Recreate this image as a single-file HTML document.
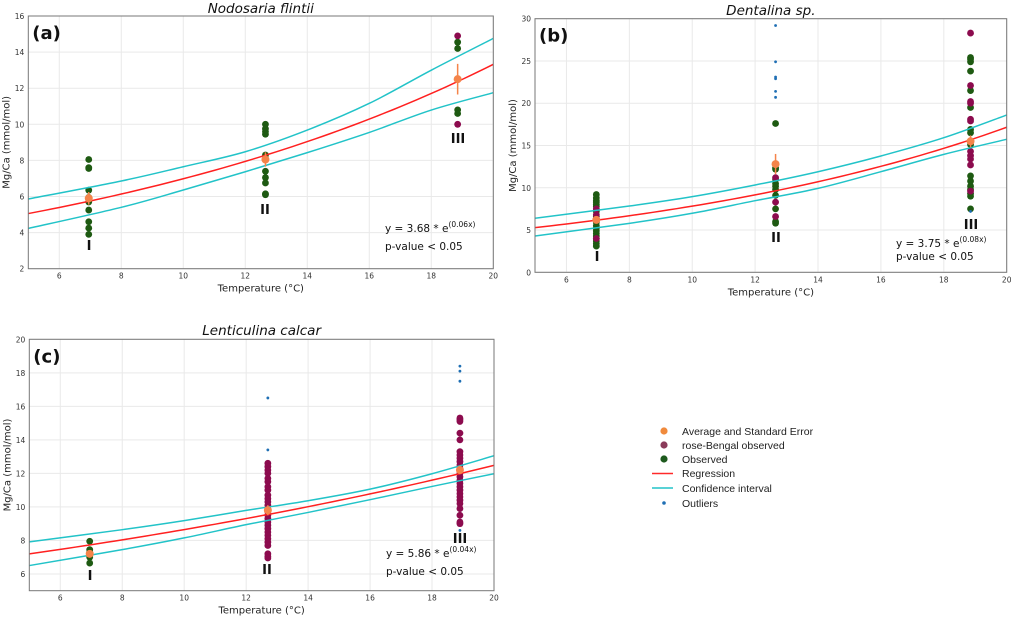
<!DOCTYPE html>
<html><head><meta charset="utf-8"><style>
html,body{margin:0;padding:0;background:#fff;}
svg{display:block;font-family:"DejaVu Sans","Liberation Sans",sans-serif;}
</style></head>
<body>
<svg id="fig" width="1011" height="617" viewBox="0 0 1011 617">
 <g id="legend" font-size="10.5" fill="#222" font-family="Liberation Sans, sans-serif">
  <circle cx="664" cy="431" r="3.6" fill="#f08a3c"/>
  <text x="682" y="435">Average and Standard Error</text>
  <circle cx="664" cy="445" r="3.6" fill="#8a3b5a"/>
  <text x="682" y="449">rose-Bengal observed</text>
  <circle cx="664" cy="459" r="3.6" fill="#1e5a1e"/>
  <text x="682" y="463">Observed</text>
  <line x1="652" y1="473.5" x2="673" y2="473.5" stroke="#ff2a2a" stroke-width="1.5"/>
  <text x="682" y="477">Regression</text>
  <line x1="652" y1="488" x2="673" y2="488" stroke="#22c3c8" stroke-width="1.5"/>
  <text x="682" y="492">Confidence interval</text>
  <circle cx="664" cy="503" r="1.8" fill="#1f6fb4"/>
  <text x="682" y="507">Outliers</text>
 </g>
</svg>
<script>
// ---------- Data ----------
const ciX = [5, 8, 10, 12, 14, 16, 18, 20];
const groupLabels = ["I", "II", "III"];

// Panel (a) Nodosaria flintii
const aGroupX = [6.95, 12.65, 18.85];
const aObserved = [[8.05,7.6,7.55,6.35,5.95,5.7,5.25,4.6,4.25,3.9],[10,9.75,9.6,9.45,8.3,8.1,7.4,7.05,6.75,6.15,6.1],[14.55,14.2,10.8,10.6]];
const aRose = [[],[],[14.9,10.0]];
const aOutliers = [[],[],[]];
const aAvg = [5.9, 8.05, 12.5];
const aErr = [0.35, 0.4, 0.85];
const aReg = [3.66, 0.0646];
const aUpper = [5.86,6.86,7.65,8.48,9.68,11.16,13.0,14.76];
const aLower = [4.23,5.4,6.36,7.37,8.43,9.55,10.79,11.75];
const aYTicks = [2,4,6,8,10,12,14,16];

// Panel (b) Dentalina sp.
const bGroupX = [6.95, 12.65, 18.85];
const bObserved = [[9.2,8.8,8.5,8.3,8.0,7.8,7.2,6.6,6.3,5.9,5.5,5.2,4.9,4.6,4.3,4.0,3.7,3.4,3.1],[17.6,12.4,12.2,11.0,10.5,10.2,9.8,9.1,7.5,6.0,5.8],[25.4,25.2,24.9,23.8,21.5,19.5,16.9,16.5,15.1,11.4,10.8,10.2,9.8,9.3,9.0,7.5]];
const bRose = [[7.5,6.8,4.0],[11.2,8.3,6.6],[28.3,22.1,20.2,20.0,18.1,17.9,15.5,14.3,13.8,13.4,12.7,9.6]];
const bOutliers = [[],[29.2,24.9,23.1,22.9,21.4,20.7],[7.2]];
const bAvg = [6.2, 12.8, 15.5];
const bErr = [0.4, 1.2, 0.7];
const bReg = [3.57, 0.0785];
const bUpper = [6.39,7.84,8.95,10.33,11.9,13.76,15.92,18.6];
const bLower = [4.3,5.79,6.98,8.47,9.93,11.9,13.95,15.73];
const bYTicks = [0,5,10,15,20,25,30];

// Panel (c) Lenticulina calcar
const cGroupX = [6.95, 12.7, 18.9];
const cObserved = [[7.95,7.45,7.3,7.0,6.65],[],[]];
const cRose = [[],[12.6,12.4,12.2,12.0,11.7,11.5,11.2,11.0,10.7,10.5,10.3,10.1,9.9,9.7,9.5,9.3,9.1,8.9,8.7,8.5,8.3,8.1,7.9,7.7,7.2,7.05,6.95],[15.3,15.2,15.1,14.4,14.0,13.3,13.1,12.9,12.7,12.5,12.3,12.0,11.8,11.6,11.4,11.2,11.0,10.8,10.6,10.4,10.2,9.9,9.5,9.1,9.0]];
const cOutliers = [[],[16.5,13.4],[18.4,18.1,17.5,8.6]];
const cAvg = [7.2, 9.8, 12.2];
const cErr = [0.15, 0.3, 0.25];
const cReg = [5.99, 0.0367];
const cUpper = [7.91,8.64,9.18,9.79,10.37,11.06,11.98,13.05];
const cLower = [6.5,7.45,8.15,8.94,9.67,10.43,11.22,11.98];
const cYTicks = [6,8,10,12,14,16,18,20];

const xTicks = [6,8,10,12,14,16,18,20];

// ---------- Drawing ----------
const NS = "http://www.w3.org/2000/svg";
const fig = document.getElementById("fig");
function mk(tag, parent, attrs){ const e=document.createElementNS(NS,tag); for(const k in attrs) e.setAttribute(k,attrs[k]); parent.appendChild(e); return e; }

function spline(pts){
  let d="M"+pts[0][0].toFixed(2)+","+pts[0][1].toFixed(2);
  for(let i=0;i<pts.length-1;i++){
    const p0=pts[i-1]||pts[i], p1=pts[i], p2=pts[i+1], p3=pts[i+2]||p2;
    const c1=[p1[0]+(p2[0]-p0[0])/6, p1[1]+(p2[1]-p0[1])/6];
    const c2=[p2[0]-(p3[0]-p1[0])/6, p2[1]-(p3[1]-p1[1])/6];
    d+="C"+c1[0].toFixed(2)+","+c1[1].toFixed(2)+" "+c2[0].toFixed(2)+","+c2[1].toFixed(2)+" "+p2[0].toFixed(2)+","+p2[1].toFixed(2);
  }
  return d;
}

function panel(p){
  const g = mk("g", fig, {});
  
  
  const X = v => p.L + (v-5)/15*(p.R-p.L);
  const Y = v => p.B - (v-p.ymin)/(p.ymax-p.ymin)*(p.B-p.T);
  xTicks.forEach(t=>{
    const l=mk("line",g,{x1:X(t),x2:X(t),y1:p.T,y2:p.B,stroke:"#e9e9e9","stroke-width":1});
    
    
    const tx=mk("text",g,{x:X(t),y:p.B+10,"font-size":7.5,fill:"#333","text-anchor":"middle"}); tx.textContent=t;
    
    
  });
  p.yt.forEach(t=>{
    const l=mk("line",g,{x1:p.L,x2:p.R,y1:Y(t),y2:Y(t),stroke:"#e9e9e9","stroke-width":1});
    
    
    const tx=mk("text",g,{x:p.L-4,y:Y(t)+3,"font-size":7.5,fill:"#333","text-anchor":"end"}); tx.textContent=t;
    
    
  });
  const clipId="clip-"+p.id;
  const cp=mk("clipPath",g,{id:clipId}); mk("rect",cp,{x:p.L,y:p.T,width:p.R-p.L,height:p.B-p.T});
  const plot=mk("g",g,{"clip-path":"url(#"+clipId+")"});
  p.gx.forEach((gx,i)=>{
    p.obs[i].forEach(v=>{ const c=mk("circle",plot,{cx:X(gx),cy:Y(v),r:3.4,fill:"#1e5a12"});
        });
    p.rose[i].forEach(v=>{ const c=mk("circle",plot,{cx:X(gx),cy:Y(v),r:3.4,fill:"#8c0b4e"});
        });
    p.out[i].forEach(v=>{ const c=mk("circle",plot,{cx:X(gx),cy:Y(v),r:1.4,fill:"#1f6fb4"});
        });
  });
  const up=mk("path",plot,{d:spline(ciX.map((x,i)=>[X(x),Y(p.up[i])])),fill:"none",stroke:"#22c3c8","stroke-width":1.5});
  
  
  const lo=mk("path",plot,{d:spline(ciX.map((x,i)=>[X(x),Y(p.lo[i])])),fill:"none",stroke:"#22c3c8","stroke-width":1.5});
  
  
  let d="";
  for(let k=0;k<=60;k++){ const x=5+k*0.25; d+=(k?"L":"M")+X(x).toFixed(2)+","+Y(p.reg[0]*Math.exp(p.reg[1]*x)).toFixed(2); }
  const rg=mk("path",plot,{d:d,fill:"none",stroke:"#ff2020","stroke-width":1.5});
  
  
  p.gx.forEach((gx,i)=>{
    const e=mk("line",plot,{x1:X(gx),x2:X(gx),y1:Y(p.avg[i]-p.err[i]),y2:Y(p.avg[i]+p.err[i]),stroke:"#f5844a","stroke-width":1.5});
     
    const c=mk("circle",plot,{cx:X(gx),cy:Y(p.avg[i]),r:4,fill:"#f5844a"});
     
  });
  const fr=mk("rect",g,{x:p.L,y:p.T,width:p.R-p.L,height:p.B-p.T,fill:"none",stroke:"#777","stroke-width":1});
  
  
  p.gl.forEach((pos,i)=>{
    const t=mk("text",g,{x:pos[0],y:pos[1],"font-size":13,"font-weight":"bold","text-anchor":"middle",fill:"#111"}); t.textContent=groupLabels[i];
     
  });
  const ti=mk("text",g,{x:(p.L+p.R)/2,y:p.titleY,"font-size":13.5,"font-style":"italic","text-anchor":"middle",fill:"#111"}); ti.textContent=p.title;
   
  const pl=mk("text",g,{x:p.L+4,y:p.T+23,"font-size":18,"font-weight":"bold",fill:"#111"}); pl.textContent=p.label;
   
  const xl=mk("text",g,{x:(p.L+p.R)/2,y:p.B+23,"font-size":10,"text-anchor":"middle",fill:"#222"}); xl.textContent="Temperature (°C)";
   
  const yx=p.L-19, yy=(p.T+p.B)/2;
  const yl=mk("text",g,{x:yx,y:yy,"font-size":10,"text-anchor":"middle",fill:"#222",transform:"rotate(-90 "+yx+" "+yy+")"}); yl.textContent="Mg/Ca (mmol/mol)";
   
  const eq=mk("text",g,{x:p.eq[0],y:p.eq[1],"font-size":10.5,fill:"#111"});
  eq.textContent=p.eqText+" * e";
  const sup=mk("tspan",eq,{dy:-5,"font-size":7.5}); sup.textContent=p.eqExp;
   
  const pv=mk("text",g,{x:p.eq[0],y:p.eq[1]+p.pvGap,"font-size":10.5,fill:"#111"}); pv.textContent="p-value < 0.05";
   
}

panel({id:"a",L:28.3,R:493.3,T:16,B:268.7,ymin:2,ymax:16,yt:aYTicks,gx:aGroupX,obs:aObserved,rose:aRose,out:aOutliers,avg:aAvg,err:aErr,reg:aReg,up:aUpper,lo:aLower,
  gl:[[89,250],[265,214],[458,143]],title:"Nodosaria flintii",titleY:13,label:"(a)",eq:[385,232],eqText:"y = 3.68",eqExp:"(0.06x)",pvGap:18});
panel({id:"b",L:535,R:1006.7,T:18.7,B:272.3,ymin:0,ymax:30,yt:bYTicks,gx:bGroupX,obs:bObserved,rose:bRose,out:bOutliers,avg:bAvg,err:bErr,reg:bReg,up:bUpper,lo:bLower,
  gl:[[597,261],[776,242],[971,229]],title:"Dentalina sp.",titleY:15,label:"(b)",eq:[896,247],eqText:"y = 3.75",eqExp:"(0.08x)",pvGap:13});
panel({id:"c",L:29.3,R:494,T:339.3,B:590.7,ymin:5,ymax:20,yt:cYTicks,gx:cGroupX,obs:cObserved,rose:cRose,out:cOutliers,avg:cAvg,err:cErr,reg:cReg,up:cUpper,lo:cLower,
  gl:[[90,580],[267,574],[460,543]],title:"Lenticulina calcar",titleY:335,label:"(c)",eq:[386,557],eqText:"y = 5.86",eqExp:"(0.04x)",pvGap:18});
</script>
</body></html>
